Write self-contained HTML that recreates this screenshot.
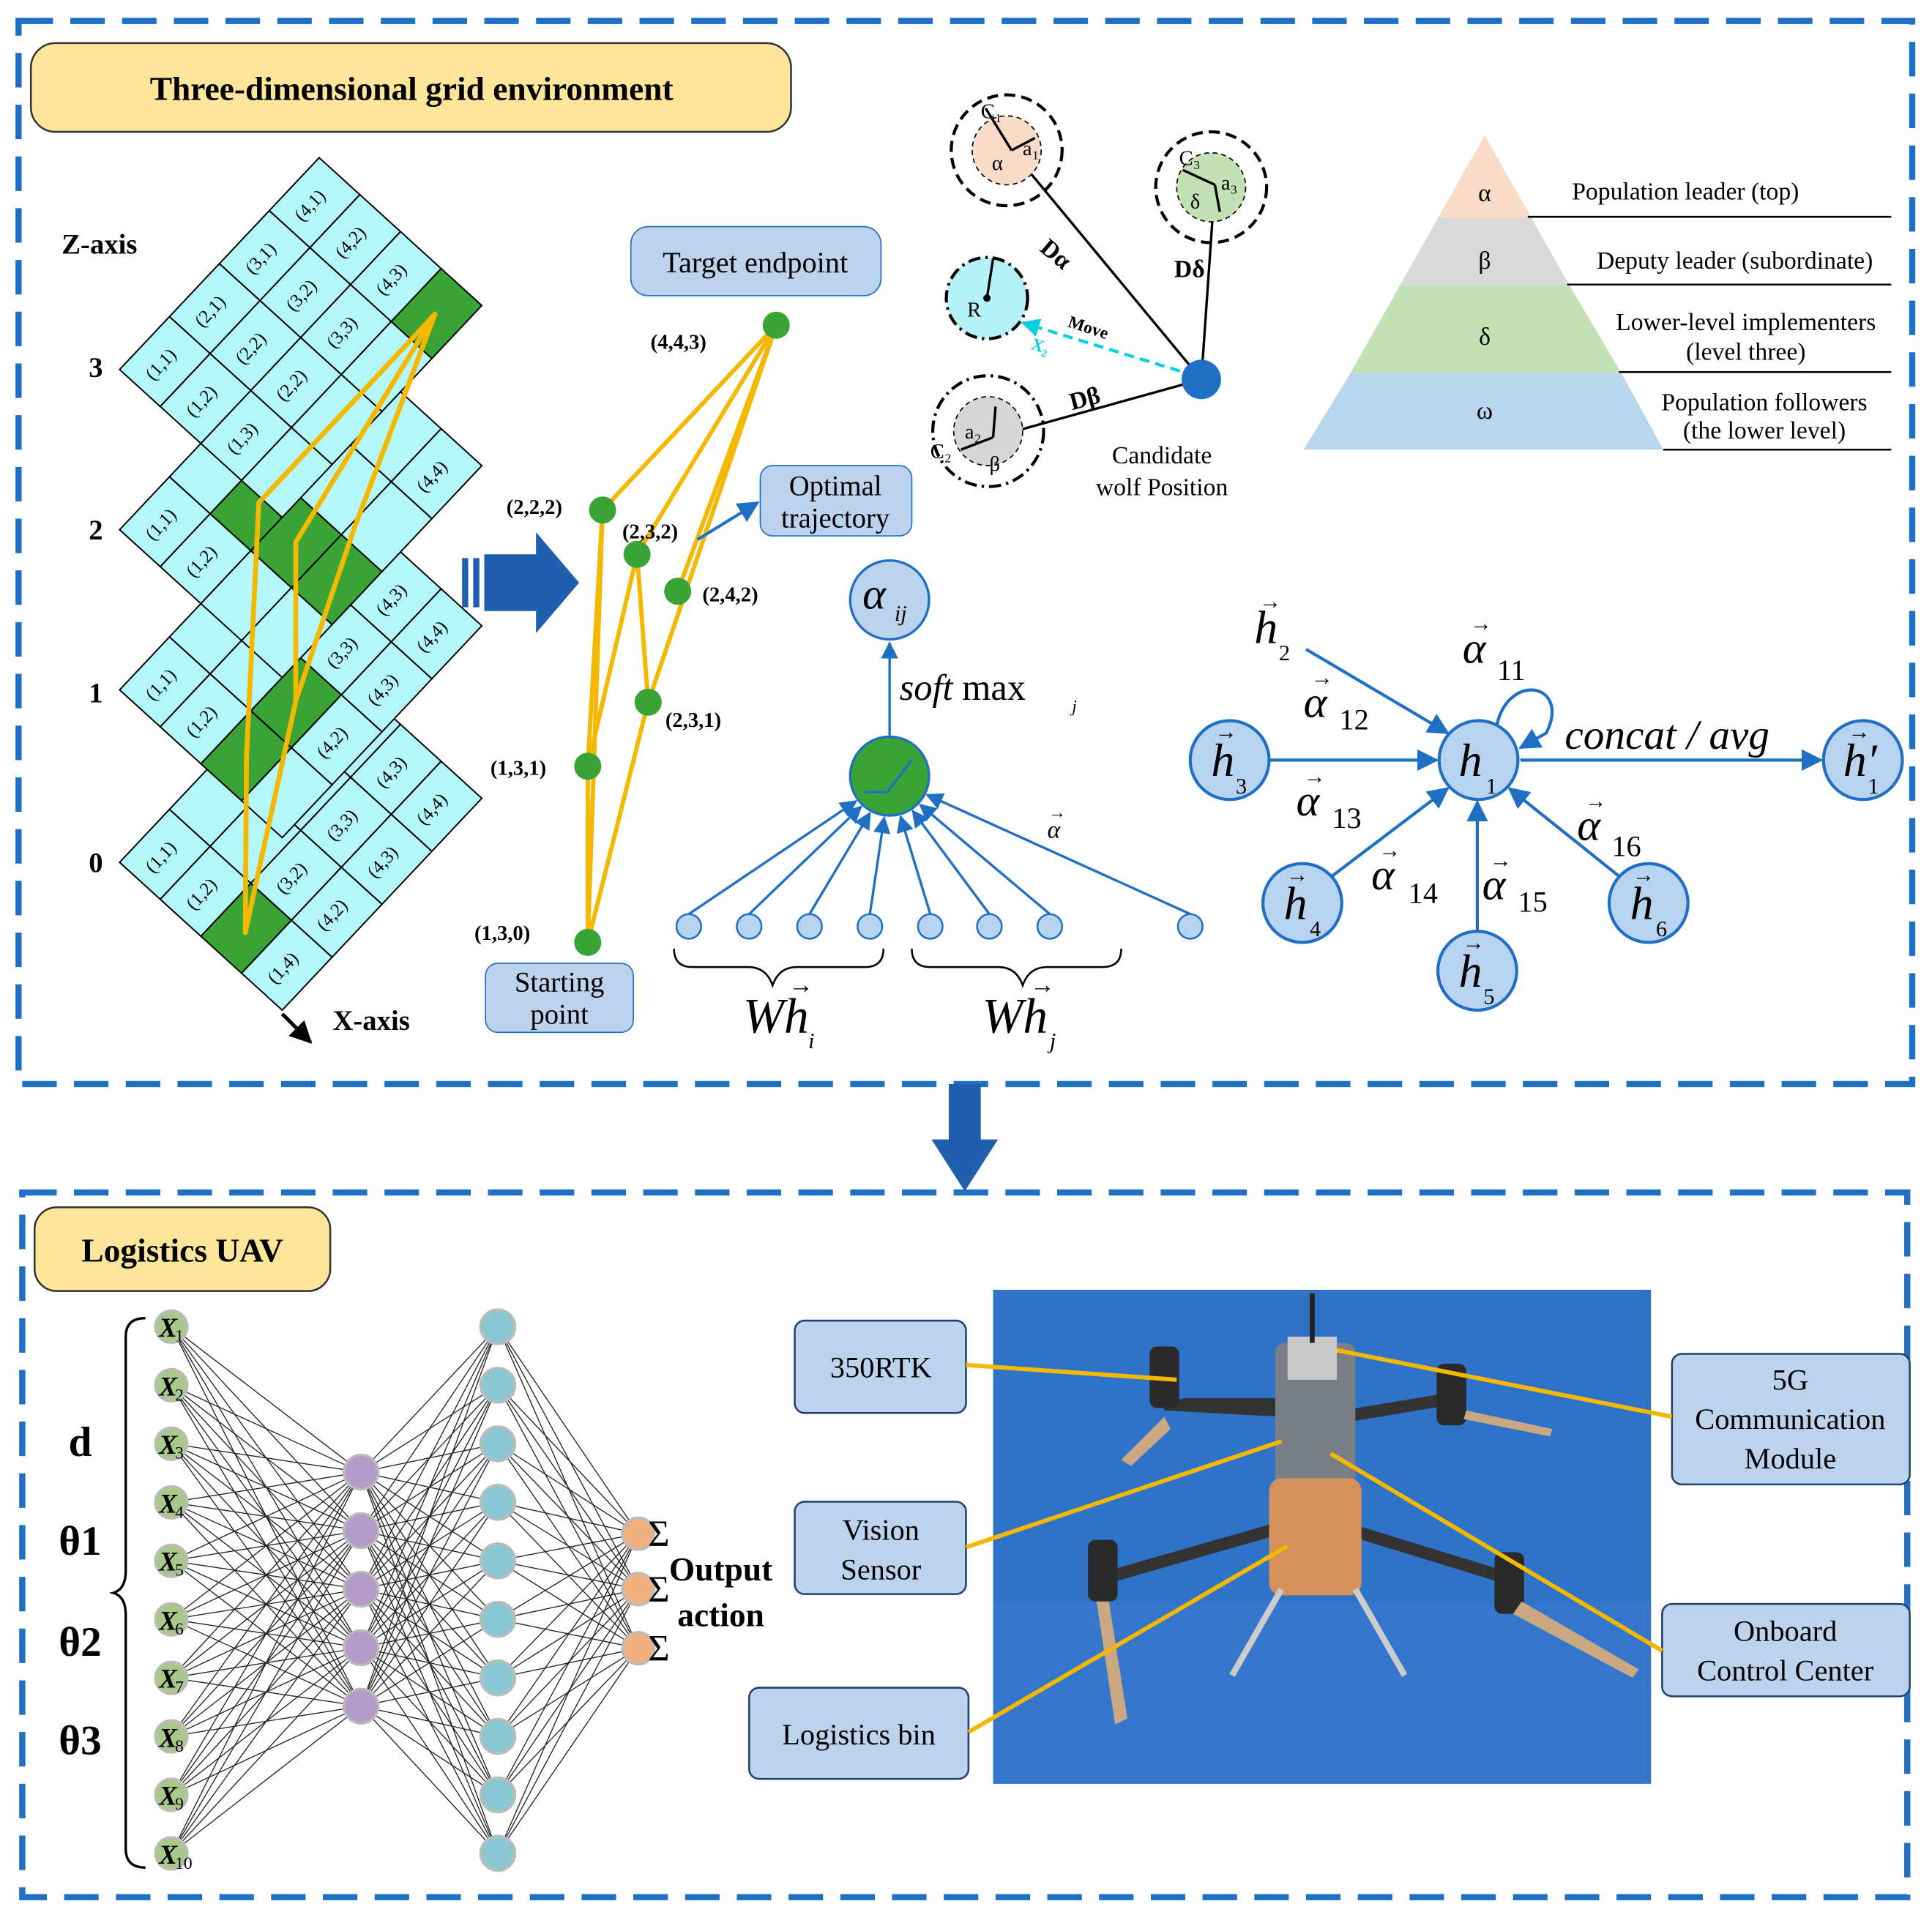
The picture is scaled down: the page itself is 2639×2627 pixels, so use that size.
<!DOCTYPE html>
<html><head><meta charset="utf-8"><style>
html,body{margin:0;padding:0;background:#fff}
svg{display:block}
text{font-family:"Liberation Serif",serif}
</style></head><body>
<svg id="s" width="2639" height="2627" viewBox="0 0 1568 1561" xmlns="http://www.w3.org/2000/svg">
<defs>
<marker id="ab" viewBox="0 0 10 10" refX="9" refY="5" markerWidth="7" markerHeight="7" orient="auto"><path d="M0,0L10,5L0,10z" fill="#1f6fc5"/></marker>
<marker id="ak" viewBox="0 0 10 10" refX="9" refY="5" markerWidth="6" markerHeight="6" orient="auto"><path d="M0,0L10,5L0,10z" fill="#000"/></marker>
<marker id="ac" viewBox="0 0 10 10" refX="9" refY="5" markerWidth="6" markerHeight="6" orient="auto"><path d="M0,0L10,5L0,10z" fill="#00d0e0"/></marker>
</defs>
<rect x="15" y="17" width="1537" height="863" fill="none" stroke="#1f6fc5" stroke-width="5" stroke-dasharray="28,14"/>
<rect x="18" y="968" width="1530" height="572" fill="none" stroke="#1f6fc5" stroke-width="5" stroke-dasharray="28,14"/>
<path d="M770,880h26v45h14l-27,42l-27,-42h14z" fill="#1f5fae"/>
<rect x="25" y="35" width="617" height="72" rx="20" fill="#fde59a" stroke="#333" stroke-width="1.5"/>
<text x="334" y="81" font-size="27" font-weight="bold" text-anchor="middle">Three-dimensional grid environment</text>
<g id="grid"></g>
<g font-size="15" text-anchor="middle" id="glab">
<text transform="translate(134,299) rotate(-47)">(1,1)</text><text transform="translate(174,256) rotate(-47)">(2,1)</text><text transform="translate(215,213) rotate(-47)">(3,1)</text><text transform="translate(255,170) rotate(-47)">(4,1)</text>
<text transform="translate(167,329) rotate(-47)">(1,2)</text><text transform="translate(207,286) rotate(-47)">(2,2)</text><text transform="translate(248,243) rotate(-47)">(3,2)</text><text transform="translate(288,200) rotate(-47)">(4,2)</text>
<text transform="translate(200,359) rotate(-47)">(1,3)</text><text transform="translate(240,316) rotate(-47)">(2,2)</text><text transform="translate(281,273) rotate(-47)">(3,3)</text><text transform="translate(321,230) rotate(-47)">(4,3)</text>
</g>
<g font-size="15" text-anchor="middle" id="glab2">
<text transform="translate(134,429) rotate(-47)">(1,1)</text><text transform="translate(167,459) rotate(-47)">(1,2)</text><text transform="translate(354,390) rotate(-47)">(4,4)</text>
<text transform="translate(134,559) rotate(-47)">(1,1)</text><text transform="translate(167,589) rotate(-47)">(1,2)</text><text transform="translate(281,533) rotate(-47)">(3,3)</text><text transform="translate(321,490) rotate(-47)">(4,3)</text><text transform="translate(354,520) rotate(-47)">(4,4)</text><text transform="translate(314,563) rotate(-47)">(4,3)</text><text transform="translate(273,606) rotate(-47)">(4,2)</text>
<text transform="translate(134,699) rotate(-47)">(1,1)</text><text transform="translate(167,729) rotate(-47)">(1,2)</text><text transform="translate(233,789) rotate(-47)">(1,4)</text><text transform="translate(240,716) rotate(-47)">(3,2)</text><text transform="translate(273,746) rotate(-47)">(4,2)</text><text transform="translate(281,673) rotate(-47)">(3,3)</text><text transform="translate(314,703) rotate(-47)">(4,3)</text><text transform="translate(321,630) rotate(-47)">(4,3)</text><text transform="translate(354,660) rotate(-47)">(4,4)</text>
</g>
<g id="ypath"></g>
<g font-size="23" font-weight="bold"><text x="50" y="206">Z-axis</text><text x="72" y="306">3</text><text x="72" y="438">2</text><text x="72" y="570">1</text><text x="72" y="708">0</text><text x="270" y="836">X-axis</text></g>
<line x1="229" y1="823" x2="252" y2="846" stroke="#000" stroke-width="3" marker-end="url(#ak)"/>
<path d="M375,453h5v40h-5zM384,453h5v40h-5zM393,450h42v-18l35,41l-35,41v-18h-42z" fill="#1f5fae"/>
<g id="path"></g>
<g font-size="17" font-weight="bold"><text x="528" y="283">(4,4,3)</text><text x="411" y="417">(2,2,2)</text><text x="505" y="437">(2,3,2)</text><text x="570" y="488">(2,4,2)</text><text x="540" y="590">(2,3,1)</text><text x="398" y="629">(1,3,1)</text><text x="385" y="763">(1,3,0)</text></g>
<rect x="512" y="184" width="203" height="56" rx="14" fill="#bcd3ee" stroke="#1f6fc5"/><text x="613" y="221" font-size="24" text-anchor="middle">Target endpoint</text>
<rect x="617" y="378" width="123" height="57" rx="10" fill="#bcd3ee" stroke="#1f6fc5"/><text x="678" y="402" font-size="23" text-anchor="middle">Optimal</text><text x="678" y="428" font-size="23" text-anchor="middle">trajectory</text>
<rect x="394" y="782" width="120" height="56" rx="10" fill="#bcd3ee" stroke="#1f6fc5"/><text x="454" y="805" font-size="23" text-anchor="middle">Starting</text><text x="454" y="831" font-size="23" text-anchor="middle">point</text>
<line x1="566" y1="438" x2="615" y2="408" stroke="#1f6fc5" stroke-width="2.5" marker-end="url(#ab)"/>
<g id="att"></g>
<circle cx="722" cy="487" r="32" fill="#bcd3ee" stroke="#1f6fc5" stroke-width="2"/>
<text x="700" y="494" font-size="36" font-style="italic">α</text><text x="726" y="504" font-size="18" font-style="italic">ij</text>
<line x1="722" y1="597" x2="722" y2="522" stroke="#1f6fc5" stroke-width="2" marker-end="url(#ab)"/>
<text x="730" y="568" font-size="30" font-style="italic">soft <tspan font-style="normal">max</tspan></text><text x="870" y="578" font-size="14" font-style="italic">j</text>
<circle cx="722" cy="630" r="32" fill="#3aa335" stroke="#1f6fc5" stroke-width="2"/>
<path d="M702,643h18l20,-26" stroke="#1f6fc5" stroke-width="2" fill="none"/>
<text x="850" y="680" font-size="20" font-style="italic">α</text><text x="851" y="664" font-size="14">→</text>
<path d="M547,770q0,15 15,15h45q15,0 20,15q5,-15 20,-15h55q15,0 15,-15M740,770q0,15 15,15h55q15,0 20,15q5,-15 20,-15h45q15,0 15,-15" fill="none" stroke="#000" stroke-width="1.5"/>
<text x="603" y="838" font-size="40" font-style="italic">Wh</text><text x="656" y="851" font-size="18" font-style="italic">i</text><text x="640" y="806" font-size="20">→</text>
<text x="797" y="838" font-size="40" font-style="italic">Wh</text><text x="852" y="851" font-size="18" font-style="italic">j</text><text x="836" y="806" font-size="20">→</text>
<g stroke="#000" stroke-width="2">
<line x1="821" y1="122" x2="975" y2="308"/><line x1="986" y1="150" x2="975" y2="308"/><line x1="806" y1="355" x2="975" y2="308"/>
</g>
<circle cx="817" cy="122" r="45" fill="none" stroke="#000" stroke-width="2.5" stroke-dasharray="9,5"/>
<circle cx="817" cy="122" r="28" fill="#f9dcc8" stroke="#000" stroke-dasharray="4,3"/>
<circle cx="983" cy="152" r="45" fill="none" stroke="#000" stroke-width="2.5" stroke-dasharray="9,5"/>
<circle cx="983" cy="152" r="28" fill="#c2e2b6" stroke="#000" stroke-dasharray="4,3"/>
<circle cx="802" cy="350" r="45" fill="none" stroke="#000" stroke-width="2.5" stroke-dasharray="10,4,2,4"/>
<circle cx="802" cy="350" r="28" fill="#d6d6d6" stroke="#000" stroke-dasharray="4,3"/>
<circle cx="801" cy="242" r="33" fill="#b4f2f7" stroke="#000" stroke-width="2.5" stroke-dasharray="10,4,2,4"/>
<line x1="801" y1="242" x2="806" y2="210" stroke="#000" stroke-width="2"/><circle cx="801" cy="242" r="3"/>
<line x1="970" y1="305" x2="830" y2="262" stroke="#00d0e0" stroke-width="2.5" stroke-dasharray="8,5" marker-end="url(#ac)"/>
<circle cx="975" cy="308" r="16" fill="#1f6fc5"/>
<g stroke="#000" stroke-width="2"><line x1="821" y1="122" x2="800" y2="88"/><line x1="821" y1="122" x2="840" y2="112"/><line x1="986" y1="150" x2="960" y2="138"/><line x1="986" y1="150" x2="990" y2="172"/><line x1="806" y1="355" x2="780" y2="365"/><line x1="806" y1="355" x2="808" y2="330"/></g>
<g font-size="17"><text x="796" y="96">C₁</text><text x="830" y="126">a₁</text><text x="805" y="138">α</text>
<text x="957" y="134">C₃</text><text x="991" y="154">a₃</text><text x="966" y="169">δ</text>
<text x="783" y="356">a₂</text><text x="803" y="382">β</text><text x="755" y="372">C₂</text><text x="785" y="257">R</text></g>
<g font-size="20" font-weight="bold"><text x="843" y="203" transform="rotate(40 843 203)">Dα</text><text x="953" y="225">Dδ</text><text x="870" y="333" transform="rotate(-15 870 333)">Dβ</text></g>
<text x="866" y="265" font-size="14" font-weight="bold" transform="rotate(18 866 265)">Move</text>
<text x="836" y="283" font-size="14" font-weight="bold" fill="#00d0e0" transform="rotate(18 836 283)">X₂</text>
<text x="943" y="376" font-size="20" text-anchor="middle">Candidate</text><text x="943" y="402" font-size="20" text-anchor="middle">wolf Position</text>
<polygon points="1205,110 1243,177 1167,177" fill="#f9dcc8"/>
<polygon points="1167,177 1243,177 1274,232 1136,232" fill="#d9d9d9"/>
<polygon points="1136,232 1274,232 1316,303 1096,303" fill="#c2e2b6"/>
<polygon points="1096,303 1316,303 1350,365 1058,365" fill="#b8d7ef"/>
<g stroke="#000" stroke-width="1.5"><line x1="1240" y1="176" x2="1535" y2="176"/><line x1="1272" y1="231" x2="1535" y2="231"/><line x1="1314" y1="302" x2="1535" y2="302"/><line x1="1350" y1="365" x2="1535" y2="365"/></g>
<g font-size="20" text-anchor="middle"><text x="1205" y="163">α</text><text x="1205" y="218">β</text><text x="1205" y="280">δ</text><text x="1205" y="340">ω</text></g>
<g font-size="20" text-anchor="middle"><text x="1368" y="162">Population leader (top)</text><text x="1408" y="218">Deputy leader (subordinate)</text><text x="1417" y="268">Lower-level implementers</text><text x="1417" y="292">(level three)</text><text x="1432" y="333">Population followers</text><text x="1432" y="356">(the lower level)</text></g>
<g stroke="#1f6fc5" stroke-width="2.5" fill="none">
<line x1="1060" y1="527" x2="1175" y2="595" marker-end="url(#ab)"/>
<line x1="1030" y1="617" x2="1166" y2="617" marker-end="url(#ab)"/>
<line x1="1080" y1="712" x2="1175" y2="640" marker-end="url(#ab)"/>
<line x1="1199" y1="756" x2="1199" y2="651" marker-end="url(#ab)"/>
<line x1="1315" y1="712" x2="1225" y2="640" marker-end="url(#ab)"/>
<line x1="1234" y1="617" x2="1478" y2="617" marker-end="url(#ab)"/>
<path d="M1215,588 C1225,545 1275,555 1255,595 L1234,607" marker-end="url(#ab)"/>
</g>
<g fill="#b8d3ef" stroke="#1f6fc5" stroke-width="2.5">
<circle cx="1200" cy="617" r="32"/><circle cx="998" cy="617" r="32"/><circle cx="1057" cy="733" r="32"/><circle cx="1199" cy="788" r="32"/><circle cx="1338" cy="733" r="32"/><circle cx="1512" cy="617" r="32"/></g>
<g font-size="38" font-style="italic">
<text x="1184" y="630">h</text><text x="983" y="630">h</text><text x="1042" y="746">h</text><text x="1184" y="801">h</text><text x="1323" y="746">h</text><text x="1496" y="630">h′</text><text x="1018" y="522">h</text>
</g>
<g font-size="18"><text x="1206" y="644">1</text><text x="1003" y="644">3</text><text x="1063" y="760">4</text><text x="1204" y="815">5</text><text x="1344" y="760">6</text><text x="1516" y="644">1</text><text x="1038" y="536">2</text>
<text x="986" y="600">→</text><text x="1044" y="716">→</text><text x="1187" y="771">→</text><text x="1325" y="716">→</text><text x="1500" y="600">→</text><text x="1022" y="494">→</text></g>
<g font-size="36" font-style="italic"><text x="1187" y="538">α</text><text x="1058" y="582">α</text><text x="1052" y="662">α</text><text x="1113" y="722">α</text><text x="1203" y="730">α</text><text x="1280" y="682">α</text></g>
<g font-size="18"><text x="1193" y="512">→</text><text x="1064" y="556">→</text><text x="1058" y="636">→</text><text x="1119" y="696">→</text><text x="1209" y="704">→</text><text x="1286" y="656">→</text></g>
<g font-size="24"><text x="1215" y="552">11</text><text x="1087" y="592">12</text><text x="1081" y="672">13</text><text x="1143" y="733">14</text><text x="1232" y="740">15</text><text x="1308" y="695">16</text></g>
<text x="1270" y="608" font-size="34" font-style="italic">concat / avg</text>
<rect x="28" y="980" width="240" height="68" rx="18" fill="#fde59a" stroke="#333" stroke-width="1.5"/>
<text x="148" y="1024" font-size="27" font-weight="bold" text-anchor="middle">Logistics UAV</text>
<g id="nn"></g>
<g font-size="22" font-style="italic" font-weight="bold">
<text x="129" y="1085">X</text><text x="129" y="1133">X</text><text x="129" y="1180">X</text><text x="129" y="1228">X</text><text x="129" y="1275">X</text><text x="129" y="1323">X</text><text x="129" y="1370">X</text><text x="129" y="1418">X</text><text x="129" y="1465">X</text><text x="129" y="1513">X</text></g>
<g font-size="14"><text x="142" y="1089">1</text><text x="142" y="1137">2</text><text x="142" y="1184">3</text><text x="142" y="1232">4</text><text x="142" y="1279">5</text><text x="142" y="1327">6</text><text x="142" y="1374">7</text><text x="142" y="1422">8</text><text x="142" y="1469">9</text><text x="142" y="1517">10</text></g>
<g font-size="30"><text x="526" y="1255">Σ</text><text x="526" y="1300">Σ</text><text x="526" y="1348">Σ</text></g>
<path d="M118,1070q-16,0 -16,15v190q0,15 -10,18q10,3 10,18v190q0,15 16,15" fill="none" stroke="#000" stroke-width="2"/>
<g font-size="34" font-weight="bold" text-anchor="middle"><text x="65" y="1182">d</text><text x="65" y="1262">θ1</text><text x="65" y="1344">θ2</text><text x="65" y="1424">θ3</text></g>
<g font-size="27" font-weight="bold" text-anchor="middle"><text x="585" y="1283">Output</text><text x="585" y="1320">action</text></g>
<rect x="806" y="1047" width="534" height="401" fill="#2f73c9"/>
<g id="drone"></g>
<g fill="#bcd3ee" stroke="#1f3f6f" stroke-width="1.5">
<rect x="645" y="1072" width="139" height="75" rx="8"/><rect x="645" y="1219" width="139" height="75" rx="8"/><rect x="608" y="1370" width="178" height="74" rx="8"/><rect x="1357" y="1099" width="193" height="106" rx="8"/><rect x="1349" y="1302" width="201" height="75" rx="8"/></g>
<g font-size="24" text-anchor="middle"><text x="715" y="1118">350RTK</text><text x="715" y="1250">Vision</text><text x="715" y="1282">Sensor</text><text x="697" y="1416">Logistics bin</text><text x="1453" y="1128">5G</text><text x="1453" y="1160">Communication</text><text x="1453" y="1192">Module</text><text x="1449" y="1332">Onboard</text><text x="1449" y="1364">Control Center</text></g>
<g stroke="#f5b800" stroke-width="3.5"><line x1="784" y1="1108" x2="955" y2="1120"/><line x1="784" y1="1256" x2="1040" y2="1170"/><line x1="786" y1="1406" x2="1045" y2="1255"/><line x1="1357" y1="1150" x2="1085" y2="1096"/><line x1="1349" y1="1340" x2="1080" y2="1180"/></g>
</svg>
<script>
var NS="http://www.w3.org/2000/svg";
function el(p,t,a){var e=document.createElementNS(NS,t);for(var k in a)e.setAttribute(k,a[k]);p.appendChild(e);return e;}
var g=document.getElementById('grid');
var layers=[[97,700,[[1,3]]],[97,560,[[1,3],[2,3]]],[97,430,[[2,2],[2,3],[2,4]]],[97,300,[[4,4]]]];
layers.forEach(function(L){var gg=el(g,'g',{transform:'matrix(40.5,-43,33,30,'+L[0]+','+L[1]+')'});
for(var i=0;i<4;i++)for(var j=0;j<4;j++){var gr=L[2].some(function(c){return c[0]==i+1&&c[1]==j+1;});
el(gg,'rect',{x:i,y:j,width:1,height:1,fill:gr?'#3aa335':'#b4f7fa',stroke:'#000','stroke-width':2,'vector-effect':'non-scaling-stroke'});}});
var lab=document.getElementById('glab');
g.appendChild(lab);
var yp=document.getElementById('ypath');
[[353,255,210,408],[210,408,200,614],[200,614,199,757],[199,757,240,569],[240,569,240,440],[240,440,353,255],[240,569,287,430],[287,430,353,255]].forEach(function(l){el(yp,'line',{x1:l[0],y1:l[1],x2:l[2],y2:l[3],stroke:'#f5b800','stroke-width':4,'stroke-linecap':'round'});});
var pg=document.getElementById('path');
var N={a:[630,264],b:[489,414],c:[517,450],d:[550,480],e:[526,570],f:[477,622],h:[477,765]};
[['a','b'],['a','c'],['a','e'],['a','d'],['b','f'],['c','f'],['c','e'],['e','h'],['f','h'],['b','h']].forEach(function(p){el(pg,'line',{x1:N[p[0]][0],y1:N[p[0]][1],x2:N[p[1]][0],y2:N[p[1]][1],stroke:'#f5b800','stroke-width':3.5});});
for(var k in N)el(pg,'circle',{cx:N[k][0],cy:N[k][1],r:11,fill:'#3aa335'});
var at=document.getElementById('att');
[559,608,657,706,755,803,852,966].forEach(function(x){var dx=722-x,dy=630-752,d=Math.sqrt(dx*dx+dy*dy);
el(at,'line',{x1:x,y1:742,x2:722-dx/d*34,y2:630-dy/d*34,stroke:'#1f6fc5','stroke-width':2,'marker-end':'url(#ab)'});
el(at,'circle',{cx:x,cy:752,r:10,fill:'#b8d3ef',stroke:'#1f6fc5','stroke-width':1.5});});
var nn=document.getElementById('nn');
var X=[],H1=[],H2=[],O=[];for(var i=0;i<10;i++){X.push([139,1077+i*47.5]);H2.push([404,1077+i*47.5]);}
for(i=0;i<5;i++)H1.push([293,1195+i*47.5]);O=[[518,1245],[518,1290],[518,1338]];
function conn(A,B){A.forEach(function(a){B.forEach(function(b){el(nn,'line',{x1:a[0],y1:a[1],x2:b[0],y2:b[1],stroke:'#222','stroke-width':0.8});});});}
conn(X,H1);conn(H1,H2);conn(H2,O);
function nodes(A,f,r){A.forEach(function(a){el(nn,'circle',{cx:a[0],cy:a[1],r:r,fill:f,stroke:'#bbb','stroke-width':2});});}
nodes(X,'#a9c98a',13);nodes(H1,'#b49bc8',14);nodes(H2,'#8cc7d4',14);nodes(O,'#f0b080',13);
var dr=document.getElementById('drone');
el(dr,'rect',{x:806,y:1300,width:534,height:148,fill:'#3a7ad0',opacity:0.5});
[[945,1140,1040,1145],[960,1140,1040,1140],[1090,1150,1180,1135],[900,1280,1040,1240],[1090,1240,1220,1280]].forEach(function(l){el(dr,'line',{x1:l[0],y1:l[1],x2:l[2],y2:l[3],stroke:'#333','stroke-width':10});});
[[945,1118],[1178,1132],[895,1275],[1225,1285]].forEach(function(p){el(dr,'rect',{x:p[0]-12,y:p[1]-25,width:24,height:50,rx:6,fill:'#2a2a2a'});});
el(dr,'polygon',{points:'910,1185 945,1150 950,1160 918,1190',fill:'#c9a882'});
el(dr,'polygon',{points:'900,1300 915,1395 905,1400 890,1300',fill:'#c9a882'});
el(dr,'polygon',{points:'1235,1300 1330,1355 1325,1362 1228,1310',fill:'#c9a882'});
el(dr,'polygon',{points:'1190,1145 1260,1160 1258,1166 1188,1152',fill:'#c9a882'});
el(dr,'rect',{x:1035,y:1090,width:65,height:125,rx:8,fill:'#7a7f85'});
el(dr,'rect',{x:1045,y:1085,width:40,height:35,fill:'#c8c8c8'});
el(dr,'rect',{x:1030,y:1200,width:75,height:95,rx:10,fill:'#d4915a'});
el(dr,'line',{x1:1065,y1:1050,x2:1065,y2:1090,stroke:'#222','stroke-width':4});
el(dr,'line',{x1:1040,y1:1290,x2:1000,y2:1360,stroke:'#ccc','stroke-width':5});
el(dr,'line',{x1:1100,y1:1290,x2:1140,y2:1360,stroke:'#ccc','stroke-width':5});
</script>
</body></html>
